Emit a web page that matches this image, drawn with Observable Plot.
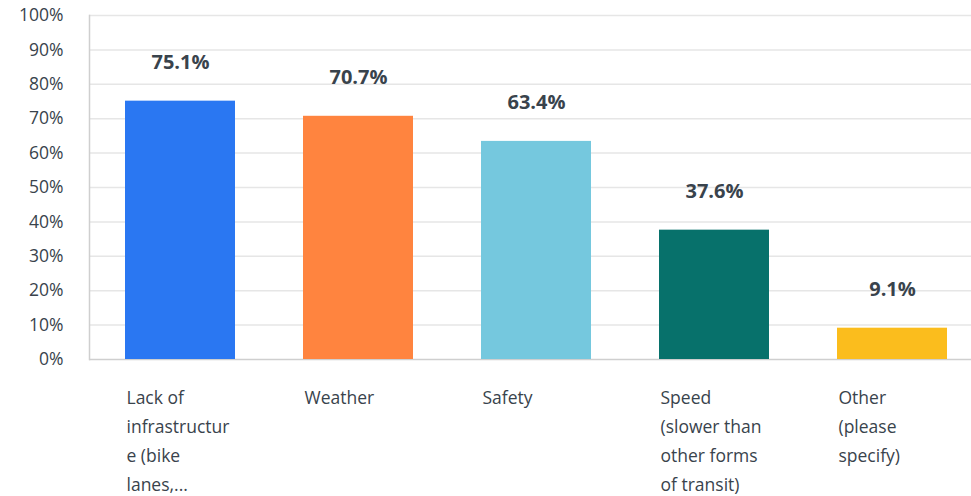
<!DOCTYPE html>
<html><head><meta charset="utf-8">
<script src="https://cdn.jsdelivr.net/npm/d3@7"></script>
<script src="https://cdn.jsdelivr.net/npm/@observablehq/plot@0.6"></script>
<style>body{margin:0;background:#fff;} svg{display:block;}</style>
</head><body><div id="chart"></div>
<script>
const categories = ["Lack of infrastructure", "Weather", "Safety", "Speed", "Other"];
const labels = ["Lack of\ninfrastructur\ne (bike\nlanes,...", "Weather", "Safety", "Speed\n(slower than\nother forms\nof transit)", "Other\n(please\nspecify)"];
const values = [75.1, 70.7, 63.4, 37.6, 9.1];
const colors = ["#2a77f2", "#ff843f", "#75c8de", "#07716b", "#fbbd1d"];
const yTicks = [0,10,20,30,40,50,60,70,80,90,100];

const data = categories.map((c,i)=>({cat:c, label:labels[i], value:values[i], color:colors[i]}));
const font = "'Open Sans', sans-serif";
const textColor = "#39434c";

const chart = Plot.plot({
  width: 971, height: 496,
  marginLeft: 89, marginRight: 0, marginTop: 15, marginBottom: 137,
  style: {fontFamily: font, color: textColor, background: "#fff"},
  x: {domain: categories, range: [89, 983], paddingInner: 0.382, paddingOuter: 0.197, axis: null},
  y: {domain: [0, 100], axis: null},
  marks: [
    Plot.ruleY(yTicks.filter(d=>d>0), {stroke: "#e6e6e6", strokeWidth: 1.5}),
    Plot.ruleY([0], {stroke: "#cfcfcf", strokeWidth: 1.5}),
    Plot.frame({anchor: "left", stroke: "#cfcfcf", strokeWidth: 1.5}),
    Plot.barY(data, {x: "cat", y: "value", fill: "color"}),
    Plot.text(data, {x: "cat", y: "value", text: d => d.value.toFixed(1) + "%", dy: -39, fontSize: 20, fontWeight: "bold", fill: textColor}),
    Plot.text(data, {x: "cat", y: () => 0, text: "label", textAnchor: "start", dx: -54, dy: 24, lineAnchor: "top", lineHeight: 1.65, fontSize: 17.5, fill: textColor}),
    Plot.axisY({ticks: yTicks, tickFormat: d => d + "%", tickSize: 0, tickPadding: 26, fontSize: 17.5, fill: textColor, label: null})
  ]
});
document.getElementById("chart").appendChild(chart);
</script></body></html>
